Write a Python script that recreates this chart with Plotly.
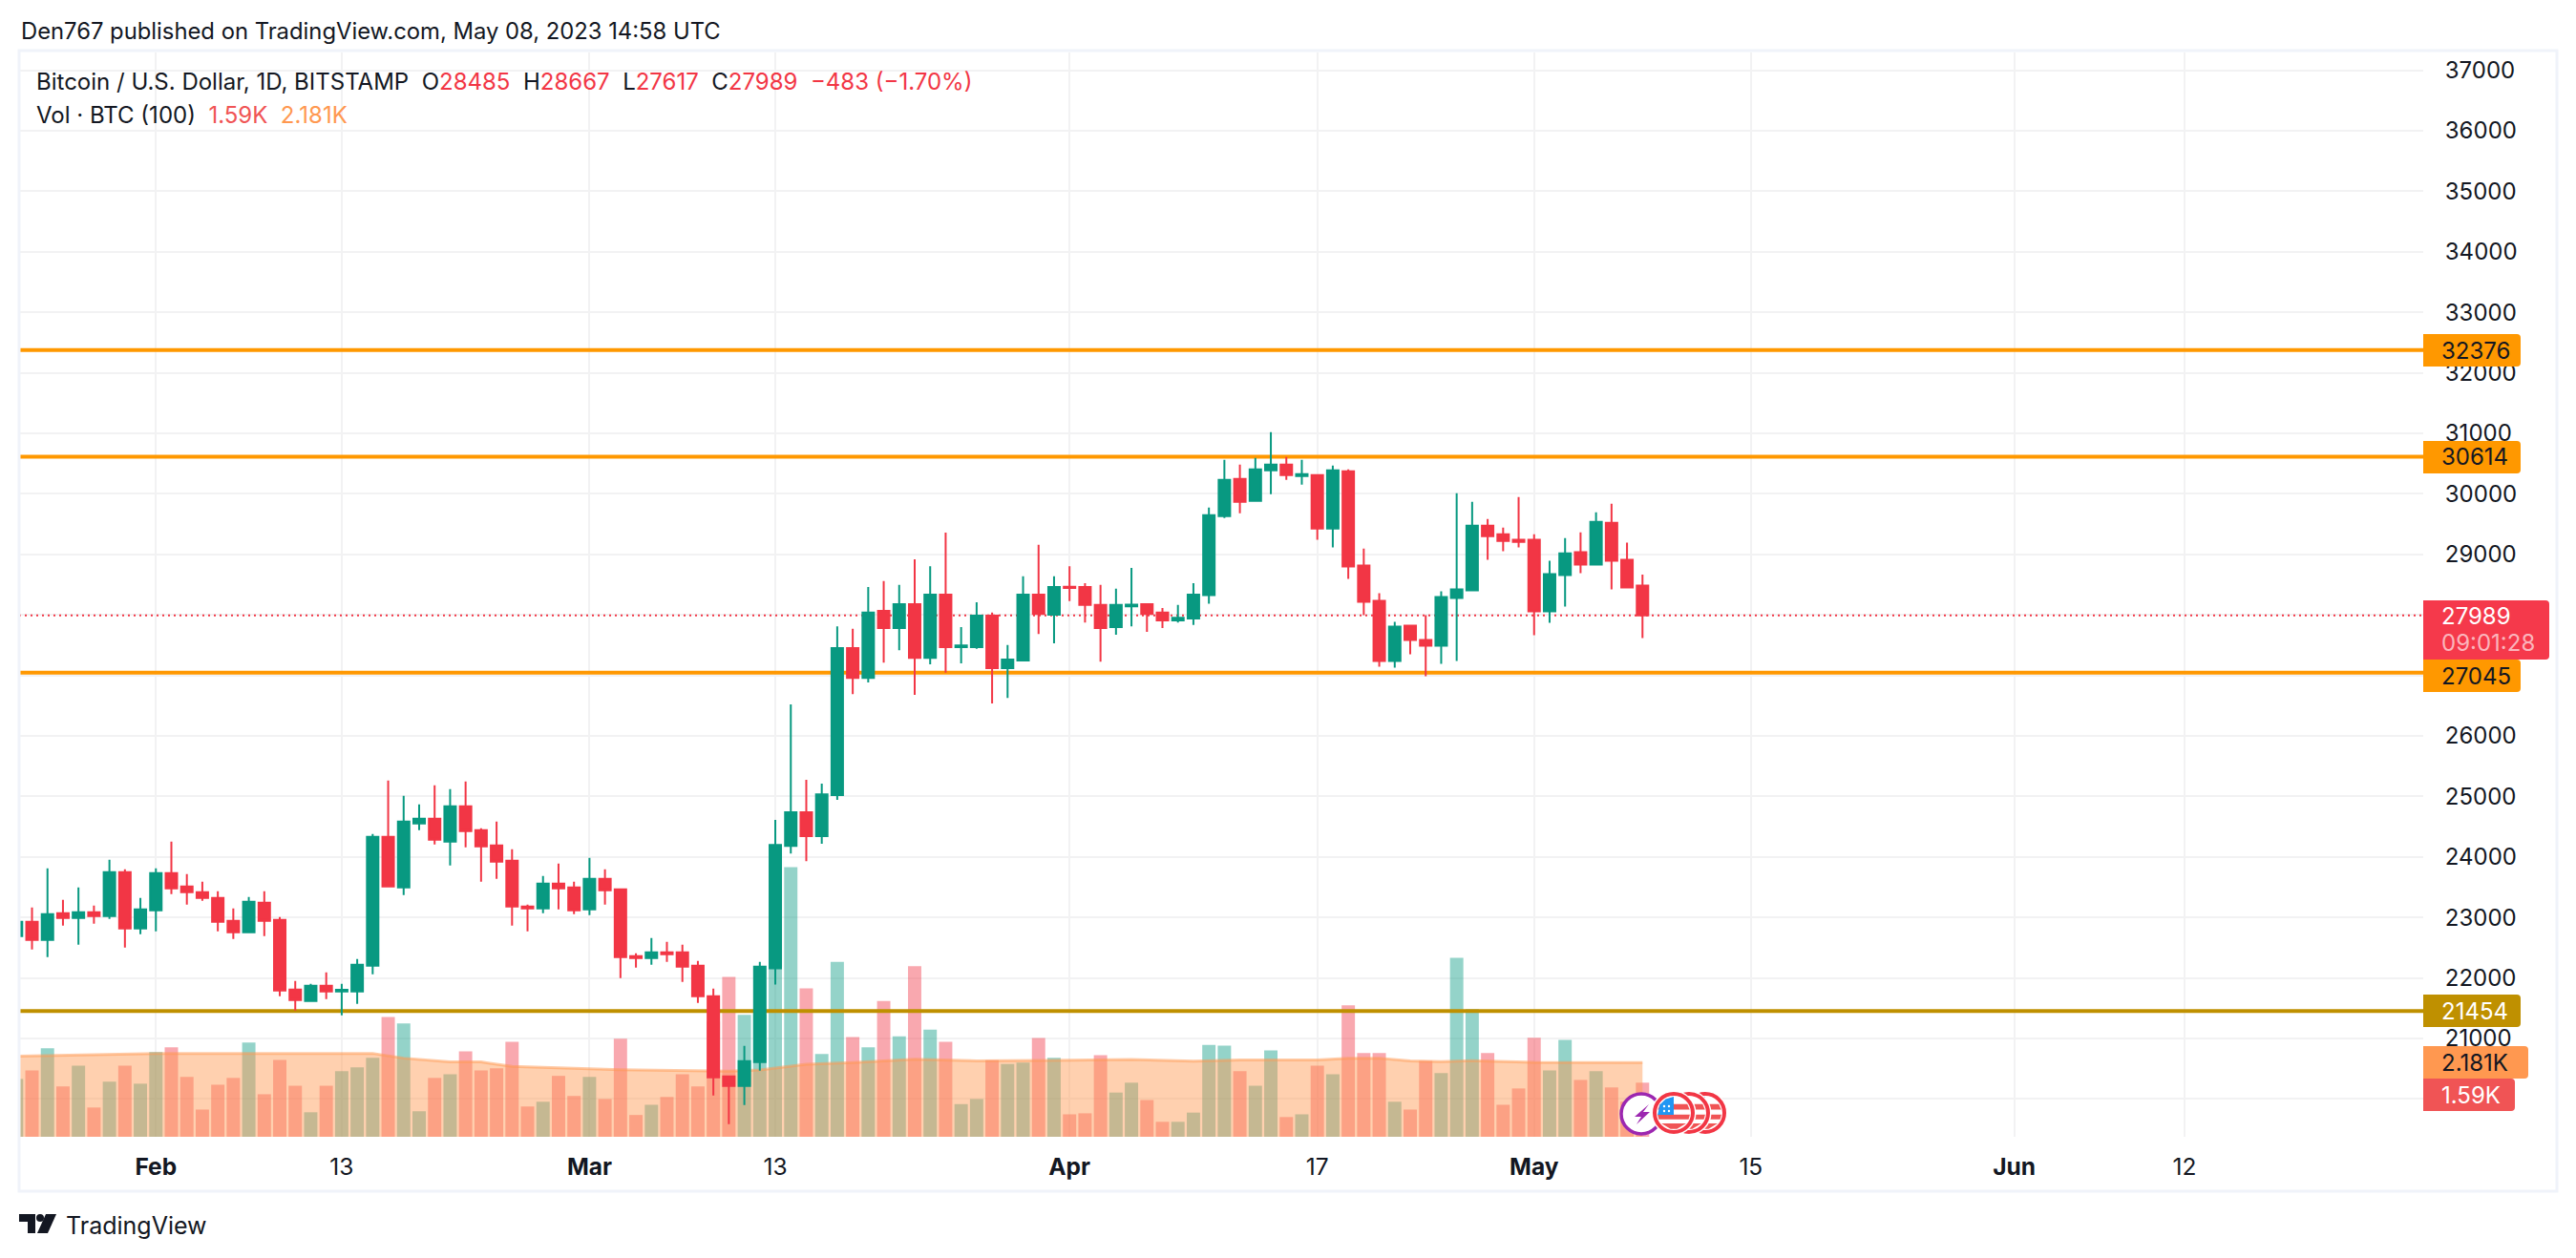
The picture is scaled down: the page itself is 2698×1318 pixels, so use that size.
import math
import pandas as pd
import plotly.graph_objects as go

dates = pd.date_range('2023-01-23', '2023-05-08', freq='D')

opens = [22692, 22928, 22629, 23070, 22991, 23086, 23023, 23749, 22818,
         23118, 23733, 23512, 23417, 23323, 22944, 22755, 23244, 22960, 21808, 21619, 21871, 21777, 21777, 22203, 24332, 23496, 24553, 24632, 24253, 24837, 24443, 24190, 23938, 23181, 23149, 23559, 23496,
         23133, 23638, 23465, 22360, 22329, 22424, 22424, 22203, 21698, 20373, 20215, 20610, 22159, 24182, 24739, 24344, 25020, 27452, 26958, 28065, 27783, 28178, 27290, 28333, 27466, 27466, 27987, 27120, 27247, 28333, 28001,
         28466, 28459, 28163, 27797, 28142, 28178, 28037, 27910, 27938, 28325, 29633, 30247, 29885, 30389, 30483, 30294, 30310, 29428, 30373, 28814, 28231, 27239, 27821, 27585, 27491, 28278, 28404, 29475, 29333, 29239,
         29239, 28058, 28656, 29034, 28829, 29522, 28908, 28485]
highs = [22990, 23165, 23812, 23291, 23496, 23197, 23954, 23796, 23323,
         23812, 24253, 23717, 23591, 23433, 23149, 23338, 23433, 23007, 21950, 21903, 22092, 21903, 22313, 24380, 25263, 25010, 24869, 25184, 25121, 25247, 24474, 24585, 24127, 23212, 23686, 23891, 23591,
         23985, 23796, 23480, 22408, 22660, 22597, 22550, 22282, 21824, 20373, 20878, 22266, 24612, 26521, 25274, 25211, 27811, 27769, 28459, 28558, 28495, 28917, 28805, 29361, 27797, 28206, 28037, 27501, 28636, 29157, 28636,
         28805, 28523, 28495, 28431, 28776, 28192, 28114, 28163, 28523, 29774, 30562, 30483, 30593, 31019, 30609, 30562, 30326, 30467, 30404, 29097, 28357, 27884, 27821, 27995, 28388, 30010, 29869, 29585, 29444, 29947,
         29333, 28892, 29270, 29365, 29696, 29837, 29192, 28667]
lows = [22650, 22471, 22345, 22865, 22550, 22897, 22976, 22502, 22723,
        22771, 23386, 23212, 23275, 22771, 22644, 22755, 22692, 21698, 21461, 21619, 21651, 21382, 21572, 22061, 23512, 23370, 24443, 24206, 23859, 24159, 23591, 23638, 22865, 22771, 23070, 23133, 23055,
        23039, 23212, 21998, 22171, 22219, 22266, 21935, 21588, 20057, 19584, 19900, 20468, 21892, 24055, 23928, 24217, 24943, 26691, 26881, 27212, 27416, 26677, 27184, 27043, 27198, 27438, 26536, 26627, 27247, 27684, 27529,
        28227, 27874, 27226, 27670, 27811, 27719, 27783, 27874, 27832, 28184, 29601, 29680, 29885, 29995, 30231, 30152, 29239, 29113, 28593, 27995, 27144, 27128, 27349, 26986, 27191, 27239, 28388, 28908, 29050, 29113,
        27664, 27868, 28136, 28688, 28829, 28420, 28435, 27617]
closes = [22928, 22629, 23055, 22991, 23086, 23023, 23749, 22818, 23133,
          23733, 23480, 23417, 23323, 22928, 22755, 23260, 22944, 21793, 21635, 21871, 21777, 21803, 22219, 24332, 23512, 24585, 24632, 24285, 24837, 24427, 24175, 23922, 23181, 23149, 23559, 23480, 23118,
          23638, 23449, 22345, 22329, 22424, 22392, 22187, 21698, 20357, 20215, 20625, 22187, 24196, 24739, 24344, 25035, 27452, 26958, 28037, 27783, 28178, 27290, 28333, 27466, 27494, 27987, 27120, 27261, 28333, 28015, 28459,
          28445, 28163, 27783, 28163, 28170, 28015, 27910, 27952, 28333, 29648, 30231, 29869, 30404, 30483, 30310, 30326, 29428, 30389, 28798, 28215, 27239, 27806, 27585, 27491, 28294, 28420, 29475, 29302, 29223, 29207,
          28058, 28672, 29018, 28829, 29538, 28892, 28451, 27989]
volumes = [1.70, 1.95, 2.60, 1.48, 2.09, 0.86, 1.62, 2.09, 1.56,
           2.49, 2.63, 1.76, 0.80, 1.53, 1.73, 2.77, 1.25, 2.26, 1.50, 0.72, 1.50, 1.93, 2.04, 2.32, 3.52, 3.33, 0.75, 1.73, 1.84, 2.51, 1.95, 2.01, 2.79, 0.89, 1.03, 1.79, 1.20,
           1.76, 1.11, 2.88, 0.64, 0.94, 1.17, 1.84, 1.48, 3.38, 4.70, 3.58, 3.60, 6.72, 7.92, 4.36, 2.43, 5.14, 2.93, 2.63, 3.99, 2.95, 5.01, 3.15, 2.79, 0.96, 1.11, 2.25, 2.14, 2.18, 2.90, 2.32,
           0.66, 0.69, 2.40, 1.30, 1.59, 1.08, 0.44, 0.44, 0.71, 2.70, 2.68, 1.93, 1.50, 2.54, 0.58, 0.66, 2.09, 1.84, 3.86, 2.46, 2.46, 1.03, 0.80, 2.23, 1.87, 5.26, 3.75, 2.46, 0.94, 1.42,
           2.91, 1.95, 2.85, 1.67, 1.93, 1.45, 1.03, 1.59]

# volume moving average, read at the places where its slope changes
ma_dates = ['2023-01-23', '2023-02-01', '2023-02-15', '2023-02-17', '2023-02-20', '2023-02-22', '2023-02-24', '2023-03-01', '2023-03-03', '2023-03-10',
            '2023-03-12', '2023-03-15', '2023-03-18', '2023-03-22', '2023-03-26', '2023-04-01', '2023-04-05', '2023-04-09', '2023-04-12', '2023-04-17',
            '2023-04-19', '2023-04-21', '2023-04-23', '2023-04-25', '2023-04-27', '2023-05-01', '2023-05-08']
ma_values = [2.37, 2.45, 2.45, 2.31, 2.20, 2.20, 2.07, 2.01, 1.97, 1.93,
             1.96, 2.13, 2.18, 2.28, 2.23, 2.25, 2.27, 2.22, 2.26, 2.26,
             2.31, 2.31, 2.23, 2.21, 2.24, 2.19, 2.18]

level_orange = [32376, 30614, 27045]
level_gold = 21454
last_close = 27989

price_ticks = list(range(20000, 38000, 1000))
# 20000, 27000 and 28000 sit behind the badges, only their gridlines show
hidden_labels = [20000, 27000, 28000]
price_labels = ['' if p in hidden_labels else str(p) for p in price_ticks]
time_ticks = ['2023-02-01', '2023-02-13', '2023-03-01', '2023-03-13', '2023-04-01', '2023-04-17', '2023-05-01', '2023-05-15', '2023-06-01', '2023-06-12']
time_labels = ['<b>Feb</b>', '13', '<b>Mar</b>', '13', '<b>Apr</b>', '17', '<b>May</b>', '15', '<b>Jun</b>', '12']

# the page keeps the browser's 8px body margin, so the figure is 16px smaller
PAD = 8
W, H = 2698 - 2 * PAD, 1318 - 2 * PAD
GREEN, RED, ORANGE, GOLD = '#089981', '#f23645', '#ff9800', '#bf9000'
INK = '#131722'
GRID = '#f2f2f3'
FONT = 'Inter'
x_range = ['2023-01-23 04:00', '2023-06-27 10:00']
price_range = [19375, 37293]


def fx(x):
    return (x - PAD) / W


def fy(y):
    return 1 - (y - PAD) / H


def px_path(points):
    return 'M' + ' L'.join(f'{fx(x):.5f},{fy(y):.5f}' for x, y in points) + ' Z'


shapes = []
annos = []


def badge(top, bottom, right, color, lines):
    r = 4
    left = 2538
    path = (f'M{fx(left)},{fy(top)} L{fx(right - r)},{fy(top)} Q{fx(right)},{fy(top)} {fx(right)},{fy(top + r)} '
            f'L{fx(right)},{fy(bottom - r)} Q{fx(right)},{fy(bottom)} {fx(right - r)},{fy(bottom)} L{fx(left)},{fy(bottom)} Z')
    shapes.append(dict(type='path', path=path, xref='paper', yref='paper', fillcolor=color, line_width=0, layer='above'))
    for y, text, c in lines:
        annos.append(dict(x=fx(2555), y=fy(y), xref='paper', yref='paper', text=text, showarrow=False, xanchor='left',
                          yanchor='middle', font=dict(family=FONT, size=FS_AXIS, color=c)))


def circle(cx, cy, r, fill, line=None, lw=0):
    shapes.append(dict(type='circle', xref='paper', yref='paper', x0=fx(cx - r), x1=fx(cx + r), y0=fy(cy + r), y1=fy(cy - r),
                       fillcolor=fill, line=dict(color=line or fill, width=lw), layer='above'))


def flag(cx, cy, r):
    circle(cx, cy, r + 1.5, 'white')
    circle(cx, cy, r - 2, 'white', RED, 4)
    inner = r - 5
    for top, bottom in [(-0.55, -0.2), (0.1, 0.4), (0.65, 0.98)]:
        y0, y1 = top * inner, bottom * inner
        w0, w1 = math.sqrt(max(inner**2 - y0**2, 0)), math.sqrt(max(inner**2 - y1**2, 0))
        shapes.append(dict(type='path', path=px_path([(cx - w0, cy + y0), (cx + w0, cy + y0), (cx + w1, cy + y1), (cx - w1, cy + y1)]),
                           xref='paper', yref='paper', fillcolor='#f05455', line_width=0, layer='above'))
    # blue corner
    pts = [(cx - inner * 0.86, cy - inner * 0.5), (cx - inner * 0.5, cy - inner * 0.86), (cx, cy - inner),
           (cx, cy + inner * 0.12), (cx - inner * 0.99, cy + inner * 0.12)]
    shapes.append(dict(type='path', path=px_path(pts), xref='paper', yref='paper', fillcolor='#2196f3', line_width=0, layer='above'))
    for dx, dy in [(-10, -7), (-5, -7), (-10, -2), (-5, -2)]:
        circle(cx + dx, cy + dy, 1.2, 'white')


FS_AXIS = 24

fig = go.Figure()

# volume pane
fig.add_trace(go.Bar(x=dates, y=volumes, yaxis='y',
                     marker=dict(color=['rgba(8,153,129,0.43)' if c >= o else 'rgba(242,54,69,0.43)' for o, c in zip(opens, closes)], line_width=0),
                     hoverinfo='skip', showlegend=False))
fig.add_trace(go.Scatter(x=ma_dates, y=ma_values, yaxis='y', mode='lines', fill='tozeroy', fillcolor='rgba(255,152,80,0.46)',
                         line=dict(color='rgba(255,152,80,0.5)', width=3), hoverinfo='skip', showlegend=False))

# levels
for lvl in level_orange:
    fig.add_trace(go.Scatter(x=x_range, y=[lvl, lvl], yaxis='y2', mode='lines', line=dict(color=ORANGE, width=4), hoverinfo='skip', showlegend=False))
fig.add_trace(go.Scatter(x=x_range, y=[level_gold, level_gold], yaxis='y2', mode='lines', line=dict(color=GOLD, width=4), hoverinfo='skip', showlegend=False))
fig.add_trace(go.Scatter(x=x_range, y=[last_close, last_close], yaxis='y2', mode='lines', line=dict(color=RED, width=2, dash='2px,4px'), hoverinfo='skip', showlegend=False))

# candles on top of everything
fig.add_trace(go.Candlestick(x=dates, open=opens, high=highs, low=lows, close=closes, yaxis='y3',
                             increasing=dict(line=dict(color=GREEN, width=2), fillcolor=GREEN),
                             decreasing=dict(line=dict(color=RED, width=2), fillcolor=RED),
                             whiskerwidth=0, hoverinfo='skip', showlegend=False))

# frame
shapes.append(dict(type='rect', xref='paper', yref='paper', x0=fx(20), x1=fx(2678), y0=fy(1248), y1=fy(53), line=dict(color='#f0f3fa', width=3), layer='above'))

# price badges
badge(629, 691, 2670, '#f5394b', [(645, '27989', 'white'), (673, '09:01:28', '#fbb5bc')])
badge(350, 384, 2640, ORANGE, [(367, '32376', INK)])
badge(462, 496, 2640, ORANGE, [(479, '30614', INK)])
badge(691, 725, 2640, ORANGE, [(708, '27045', INK)])
badge(1042, 1076, 2640, GOLD, [(1059, '21454', 'white')])
badge(1096, 1130, 2648, '#ff9850', [(1113, '2.181K', INK)])
badge(1130, 1164, 2634, '#f05455', [(1147, '1.59K', 'white')])

# event icons
circle(1719, 1167, 21, 'white', '#9c27b0', 3.5)
shapes.append(dict(type='path', path=px_path([(1727, 1157), (1712, 1170), (1719, 1170), (1714, 1178), (1728, 1165), (1721, 1165)]),
                   xref='paper', yref='paper', fillcolor='#9c27b0', line_width=0, layer='above'))
flag(1786, 1166, 22)
flag(1769, 1166, 22)
flag(1753, 1166, 22)

# header text
annos.append(dict(x=fx(20), y=fy(32), xref='paper', yref='paper', xanchor='left', yanchor='middle', showarrow=False,
                  text='Den767 published on TradingView.com, May 08, 2023 14:58 UTC', font=dict(family=FONT, size=23.8, color=INK)))
red = f'<span style="color:{RED}">'
annos.append(dict(x=fx(36), y=fy(86), xref='paper', yref='paper', xanchor='left', yanchor='middle', showarrow=False,
                  text=f'Bitcoin / U.S. Dollar, 1D, BITSTAMP&nbsp;&nbsp;O{red}28485</span>&nbsp;&nbsp;H{red}28667</span>&nbsp;&nbsp;L{red}27617</span>&nbsp;&nbsp;C{red}27989</span>&nbsp;&nbsp;{red}−483 (−1.70%)</span>',
                  font=dict(family=FONT, size=24, color=INK)))
annos.append(dict(x=fx(36), y=fy(120), xref='paper', yref='paper', xanchor='left', yanchor='middle', showarrow=False,
                  text='Vol · BTC (100)&nbsp;&nbsp;<span style="color:#f05455">1.59K</span>&nbsp;&nbsp;<span style="color:#ff9850">2.181K</span>',
                  font=dict(family=FONT, size=24, color=INK)))

# logo
shapes.append(dict(type='path', path=px_path([(20, 1272), (37, 1272), (37, 1292), (29, 1292), (29, 1280), (20, 1280)]),
                   xref='paper', yref='paper', fillcolor=INK, line_width=0, layer='above'))
circle(42, 1276, 4, INK)
shapes.append(dict(type='path', path=px_path([(48, 1272), (59, 1272), (50, 1292), (39, 1292)]), xref='paper', yref='paper', fillcolor=INK, line_width=0, layer='above'))
annos.append(dict(x=fx(67), y=fy(1284), xref='paper', yref='paper', xanchor='left', yanchor='middle', showarrow=False,
                  text='TradingView', font=dict(family=FONT, size=25, color=INK)))

dom_x = [fx(20), fx(2538)]
dom_y = [fy(1191), fy(55)]

fig.update_layout(
    width=W, height=H, margin=dict(l=0, r=0, t=0, b=0), paper_bgcolor='white', plot_bgcolor='white',
    showlegend=False, bargap=0.14, boxgap=0.26, boxgroupgap=0, shapes=shapes, annotations=annos,
    font=dict(family=FONT, color=INK),
    xaxis=dict(domain=dom_x, type='date', range=x_range, tickvals=time_ticks, ticktext=time_labels, showgrid=True, gridcolor=GRID, gridwidth=2,
               zeroline=False, showline=False, ticks='outside', ticklen=10, tickcolor='rgba(0,0,0,0)', tickfont=dict(family=FONT, size=24.5, color=INK),
               rangeslider=dict(visible=False)),
    yaxis=dict(domain=dom_y, range=[0, 31.86], showgrid=False, zeroline=False, showticklabels=False, ticks=''),
    yaxis2=dict(domain=dom_y, overlaying='y', side='right', anchor='x', range=price_range, tickvals=price_ticks, ticktext=price_labels,
                showgrid=True, gridcolor=GRID, gridwidth=2, zeroline=False, showline=False, ticks='outside', ticklen=17, tickcolor='rgba(0,0,0,0)',
                tickfont=dict(family=FONT, size=FS_AXIS, color=INK)),
    yaxis3=dict(domain=dom_y, overlaying='y', side='right', anchor='x', range=price_range, showgrid=False, zeroline=False, showticklabels=False, ticks=''),
)

fig.write_html("out.html")
